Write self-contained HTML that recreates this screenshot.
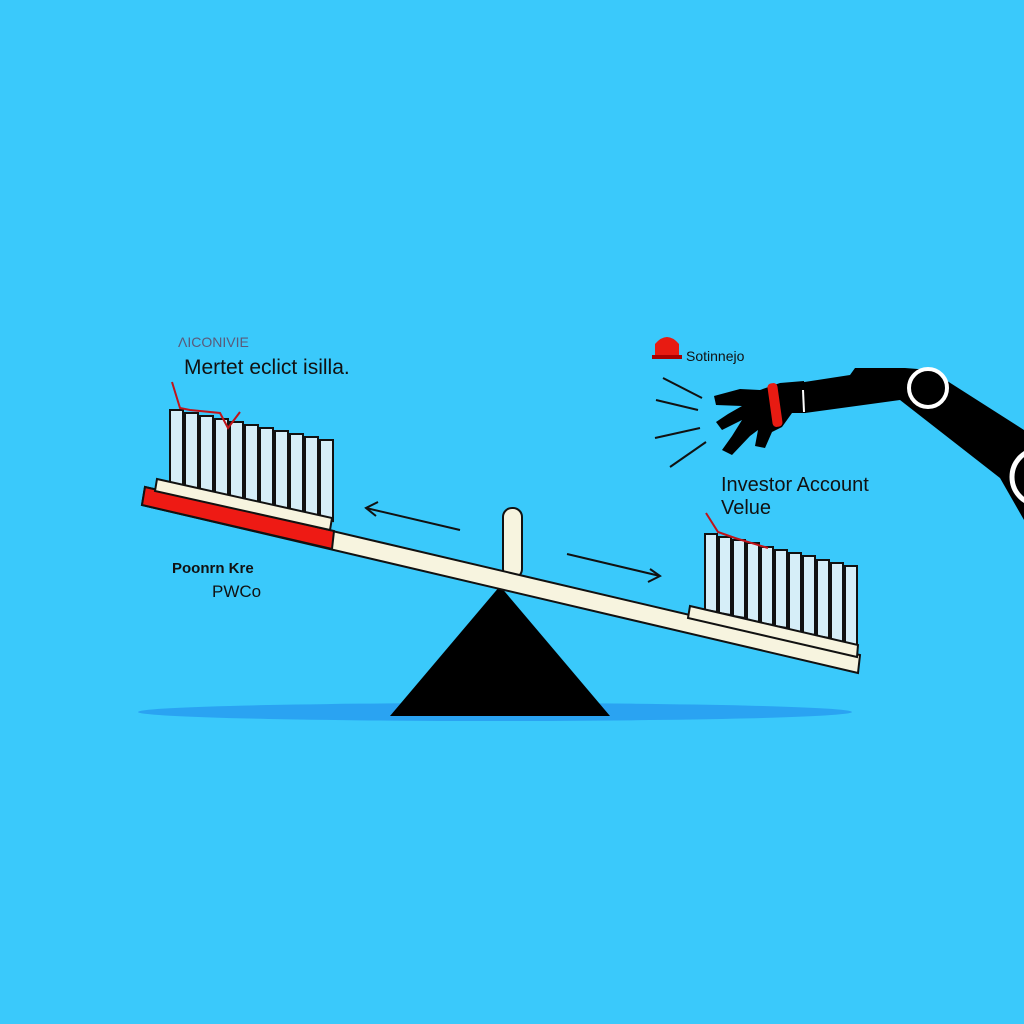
<!DOCTYPE html>
<html><head><meta charset="utf-8"><style>
html,body{margin:0;padding:0;background:#3ac9fb;}
svg{display:block}
text{font-family:"Liberation Sans",sans-serif;fill:#111}
</style></head><body>
<svg width="1024" height="1024" viewBox="0 0 1024 1024" xmlns="http://www.w3.org/2000/svg">
<rect width="1024" height="1024" fill="#3ac9fb"/>
<ellipse cx="495" cy="712" rx="357" ry="9" fill="#2aa3f2"/>
<rect x="503" y="508" width="19" height="70" rx="9" fill="#f7f4df" stroke="#111" stroke-width="2"/>
<polygon points="500,586 390,716 610,716" fill="#000"/>
<polygon points="145,487 860,655 858,673 142,505" fill="#f7f4df" stroke="#111" stroke-width="2"/>
<polygon points="145,487 334,531 332,549 142,505" fill="#ee1a14" stroke="#111" stroke-width="2"/>
<!-- left bars -->
<g fill="#d6eef8" stroke="#111" stroke-width="2">
<polygon points="170,410 183,410 183,488 170,485"/>
<polygon points="185,413 198,413 198,491 185,488"/>
<polygon points="200,416 213,416 213,494 200,491"/>
<polygon points="215,419 228,419 228,498 215,495"/>
<polygon points="230,422 243,422 243,501 230,498"/>
<polygon points="245,425 258,425 258,505 245,502"/>
<polygon points="260,428 273,428 273,508 260,505"/>
<polygon points="275,431 288,431 288,511 275,508"/>
<polygon points="290,434 303,434 303,515 290,512"/>
<polygon points="305,437 318,437 318,518 305,515"/>
<polygon points="320,440 333,440 333,521 320,518"/>
</g>
<polygon points="157,479 332,518 330,530 155,491" fill="#f7f4df" stroke="#111" stroke-width="2"/>
<polyline points="172,382 180,408 190,410 220,413 228,428 240,412" fill="none" stroke="#c0131a" stroke-width="2"/>
<!-- right bars -->
<g fill="#d6eef8" stroke="#111" stroke-width="2">
<polygon points="705,534 717,534 717,612 705,610"/>
<polygon points="719,537 731,537 731,615 719,613"/>
<polygon points="733,540 745,540 745,618 733,616"/>
<polygon points="747,543 759,543 759,622 747,620"/>
<polygon points="761,547 773,547 773,625 761,623"/>
<polygon points="775,550 787,550 787,628 775,626"/>
<polygon points="789,553 801,553 801,632 789,630"/>
<polygon points="803,556 815,556 815,635 803,633"/>
<polygon points="817,560 829,560 829,638 817,636"/>
<polygon points="831,563 843,563 843,642 831,640"/>
<polygon points="845,566 857,566 857,645 845,643"/>
</g>
<polygon points="690,606 858,645 857,657 688,618" fill="#f7f4df" stroke="#111" stroke-width="2"/>
<polyline points="706,513 718,532 735,538 768,548" fill="none" stroke="#c0131a" stroke-width="2"/>
<g stroke="#111" stroke-width="2" fill="none">
<line x1="460" y1="530" x2="366" y2="508"/><polyline points="378,502 366,508 376,516"/>
<line x1="567" y1="554" x2="660" y2="576"/><polyline points="650,569 660,576 648,582"/>
<line x1="663" y1="378" x2="702" y2="398"/><line x1="656" y1="400" x2="698" y2="410"/>
<line x1="655" y1="438" x2="700" y2="428"/><line x1="670" y1="467" x2="706" y2="442"/>
</g>
<polygon points="798,383 850,375 855,368 905,368 930,370 1024,430 1024,520 1000,478 900,400 805,413" fill="#000"/>
<circle cx="928" cy="388" r="19" fill="#000" stroke="#fff" stroke-width="4"/>
<circle cx="1040" cy="477" r="28" fill="#000" stroke="#fff" stroke-width="5"/>
<path d="M804,381 L780,383 L760,390 L740,389 L714,396 L716,405 L742,406 L728,414 L716,422 L722,430 L742,420 L732,436 L722,450 L732,455 L750,436 L758,430 L755,446 L765,448 L772,432 L782,427 L792,413 L806,413 Z" fill="#000"/>
<rect x="770" y="383" width="10" height="44" rx="4" fill="#e81b12" transform="rotate(-8 775 405)"/>
<line x1="803" y1="390" x2="804" y2="412" stroke="#fff" stroke-width="2"/>
<path d="M655,357 L655,344 Q667,330 679,344 L679,357 Z" fill="#e81b12"/>
<rect x="652" y="355" width="30" height="4" fill="#a00"/>
<text x="178" y="347" font-size="14" style="fill:#5a5a7a">ɅICONIVIE</text>
<text x="184" y="374" font-size="21">Mertet eclict isilla.</text>
<text x="172" y="573" font-size="15" font-weight="bold">Poonrn Kre</text>
<text x="212" y="597" font-size="17">PWCo</text>
<text x="686" y="361" font-size="14">Sotinnejo</text>
<text x="721" y="491" font-size="20">Investor Account</text>
<text x="721" y="514" font-size="20">Velue</text>
</svg>
</body></html>
